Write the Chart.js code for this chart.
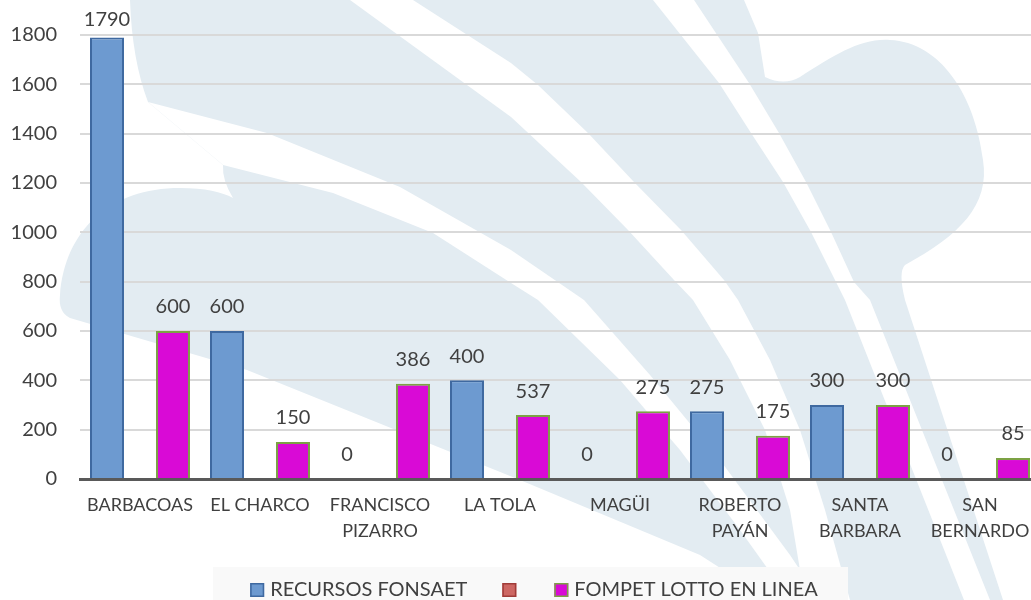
<!DOCTYPE html>
<html><head><meta charset="utf-8">
<script src="https://cdn.jsdelivr.net/npm/chart.js@4/dist/chart.umd.min.js"></script>
<style>
html,body{margin:0;padding:0;overflow:hidden;background:#fff;width:1031px;height:600px}
#wrap{position:absolute;left:0;top:0;width:1045px;height:610px}
</style>
</head><body>
<div id="wrap"><canvas id="c" width="1045" height="610"></canvas></div>
<script>
// ---- data ----
const categories = [["BARBACOAS"],["EL CHARCO"],["FRANCISCO","PIZARRO"],["LA TOLA"],["MAGÜI"],["ROBERTO","PAYÁN"],["SANTA","BARBARA"],["SAN","BERNARDO"]];
const seriesNames = ["RECURSOS FONSAET", "", "FOMPET LOTTO EN LINEA"];
const fonsaet = [1790, 600, 0, 400, 0, 275, 300, 0];
const emptySeries = [null, null, null, null, null, null, null, null];
const fompet = [600, 150, 386, 259, 275, 175, 300, 85];
const fonsaetLabels = ["1790", "600", "0", "400", "0", "275", "300", "0"];
const fompetLabels = ["600", "150", "386", "537", "275", "175", "300", "85"];
const yTickValues = [0, 200, 400, 600, 800, 1000, 1200, 1400, 1600, 1800];

const TEXT = '#404040';
const FONT = 'Lato, "Open Sans", sans-serif';

// ---- watermark (background decoration) ----
const watermark = {
  id: 'watermark',
  beforeDraw(chart) {
    const c = chart.ctx;
    c.save();
    c.fillStyle = '#ffffff';
    c.fillRect(0, 0, chart.width, chart.height);
    c.fillStyle = '#e3ecf2';
    c.beginPath();
    c.moveTo(130, 0); c.lineTo(744, 0); c.lineTo(758, 33); c.lineTo(765, 77);
    c.quadraticCurveTo(784, 86, 800, 77);
    c.bezierCurveTo(835, 55, 860, 38, 890, 40);
    c.bezierCurveTo(940, 42, 975, 95, 983, 160);
    c.bezierCurveTo(990, 205, 960, 235, 905, 265);
    c.quadraticCurveTo(898, 272, 905, 300);
    c.lineTo(1003, 600); c.lineTo(770, 600); c.lineTo(700, 555); c.lineTo(520, 480);
    c.lineTo(247, 370); c.lineTo(70, 318);
    c.quadraticCurveTo(58, 312, 60, 295);
    c.bezierCurveTo(65, 230, 110, 188, 180, 188);
    c.bezierCurveTo(205, 188, 222, 192, 233, 198);
    c.quadraticCurveTo(222, 180, 223, 165);
    c.lineTo(148, 102);
    c.quadraticCurveTo(132, 60, 130, 0);
    c.closePath(); c.fill();
    c.fillStyle = '#ffffff';
    const poly = pts => { c.beginPath(); c.moveTo(pts[0][0], pts[0][1]); for (let i = 1; i < pts.length; i++) c.lineTo(pts[i][0], pts[i][1]); c.closePath(); c.fill(); };
    poly([[148,102],[267,133],[400,187],[511,250],[584,300],[650,375],[720,460],[790,555],[820,600],[790,600],[740,530],[680,450],[620,380],[538,300],[511,283],[433,233],[333,193],[223,165]]);
    poly([[413,0],[511,63],[538,85],[588,133],[634,182],[681,230],[724,280],[738,300],[770,360],[800,430],[825,510],[850,600],[805,600],[790,510],[765,430],[730,360],[693,300],[674,280],[628,230],[581,182],[511,117],[350,0]]);
    poly([[694,0],[749,83],[779,133],[806,182],[831,232],[854,282],[870,300],[990,600],[964,600],[845,300],[836,282],[811,232],[783,182],[751,133],[719,83],[653,0]]);
    c.restore();
  }
};

// ---- value labels ----
const valueLabels = {
  id: 'valueLabels',
  afterDatasetsDraw(chart) {
    const c = chart.ctx;
    c.save();
    c.font = '20px ' + FONT; c.fillStyle = TEXT;
    c.textAlign = 'center'; c.textBaseline = 'middle';
    chart.data.datasets.forEach((ds, di) => {
      if (!ds.valueLabels) return;
      chart.getDatasetMeta(di).data.forEach((bar, i) => {
        const t = ds.valueLabels[i];
        if (t == null) return;
        c.fillText(t, bar.x, Math.max(bar.y - 24, 20));
      });
    });
    c.restore();
  }
};

// ---- legend ----
const boxLegend = {
  id: 'boxLegend',
  afterDraw(chart) {
    const c = chart.ctx;
    c.save();
    c.fillStyle = '#f9f9f9';
    c.fillRect(213, 567, 635, 50);
    c.font = '20px ' + FONT; c.textBaseline = 'middle'; c.textAlign = 'left';
    const box = 14, gapText = 6, gapItem = 35, gapEmpty = 38;
    const items = chart.data.datasets.map(ds => ({ text: ds.label, fill: ds.backgroundColor, stroke: ds.borderColor }));
    let total = 0;
    items.forEach((it, i) => {
      it.w = c.measureText(it.text).width;
      total += box + (it.text ? gapText + it.w : 0);
      if (i < items.length - 1) total += it.text ? gapItem : gapEmpty;
    });
    let x = 534 - total / 2;
    const cy = 590;
    items.forEach((it, i) => {
      c.fillStyle = it.fill; c.fillRect(x, cy - 7, box, box);
      c.strokeStyle = it.stroke; c.lineWidth = 1.5; c.strokeRect(x + 0.75, cy - 6.25, box - 1.5, box - 1.5);
      x += box;
      if (it.text) { x += gapText; c.fillStyle = TEXT; c.fillText(it.text, x, cy); x += it.w; }
      if (i < items.length - 1) x += it.text ? gapItem : gapEmpty;
    });
    c.restore();
  }
};

new Chart(document.getElementById('c'), {
  type: 'bar',
  data: {
    labels: categories,
    datasets: [
      { label: seriesNames[0], data: fonsaet, valueLabels: fonsaetLabels,
        backgroundColor: '#6d9ad0', borderColor: '#3f69a0', borderWidth: 2 },
      { label: seriesNames[1], data: emptySeries,
        backgroundColor: '#cd6763', borderColor: '#a03c39', borderWidth: 2 },
      { label: seriesNames[2], data: fompet, valueLabels: fompetLabels,
        backgroundColor: '#d90ad6', borderColor: '#7ca244', borderWidth: 2 }
    ]
  },
  options: {
    responsive: false,
    animation: false,
    devicePixelRatio: 1,
    layout: { padding: { left: 0, right: 5, top: 34, bottom: 51 } },
    datasets: { bar: { categoryPercentage: 0.825, barPercentage: 1.03 } },
    plugins: { legend: { display: false }, tooltip: { enabled: false } },
    scales: {
      x: {
        grid: { display: false, drawTicks: false },
        border: { display: true, color: '#595959', width: 3 },
        ticks: { color: TEXT, font: { family: FONT, size: 18, lineHeight: 1.4 }, padding: 14, autoSkip: false, maxRotation: 0, minRotation: 0 },
        afterFit: s => { s.height = 80; }
      },
      y: {
        min: 0, max: 1800,
        afterBuildTicks: s => { s.ticks = yTickValues.map(v => ({ value: v })); },
        grid: { color: '#d9d9d9', lineWidth: 2, drawTicks: false },
        border: { display: false },
        ticks: { color: TEXT, font: { family: FONT, size: 20 }, padding: 23, callback: v => String(v) },
        afterFit: s => { s.width = 80; }
      }
    }
  },
  plugins: [watermark, valueLabels, boxLegend]
});
</script>
</body></html>
